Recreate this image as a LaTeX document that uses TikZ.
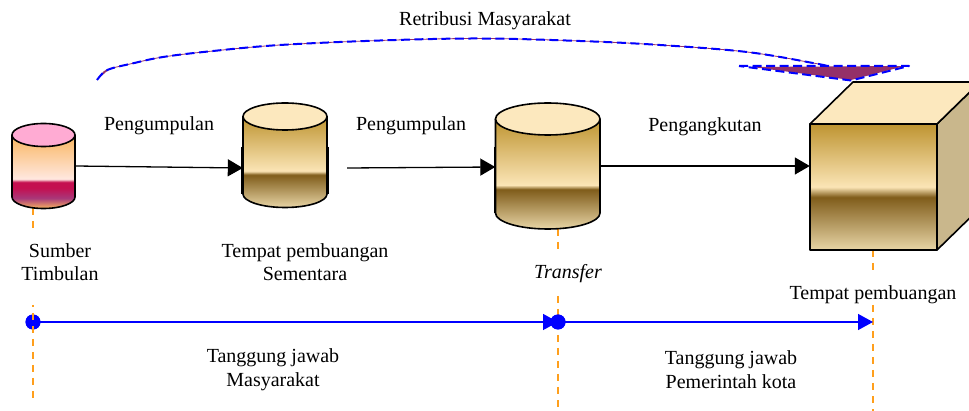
\documentclass[tikz,border=0pt]{standalone}
\usepackage{fontspec}
\setmainfont{Liberation Serif}
\usetikzlibrary{arrows.meta}
\definecolor{gA}{HTML}{BE9431}
\definecolor{gB}{HTML}{FBE5B6}
\definecolor{gC}{HTML}{7F5C1A}
\definecolor{gD}{HTML}{E8D5A6}
\definecolor{capc}{HTML}{FCE8BE}
\definecolor{sidec}{HTML}{C9B78C}
\definecolor{pinkc}{HTML}{FFABD3}
\definecolor{orA}{HTML}{F9B55F}
\definecolor{orB}{HTML}{FFE8E0}
\definecolor{maA}{HTML}{C40F50}
\definecolor{maB}{HTML}{A8387A}
\definecolor{purp}{HTML}{943069}
\definecolor{dashor}{HTML}{FF9F1C}
% the shaded path's height maps on 25bp..75bp of the shading
\pgfdeclareverticalshading{goldsh}{100bp}{
 color(0bp)=(gD); color(25bp)=(gD); color(43bp)=(gC); color(45bp)=(gB); color(75bp)=(gA); color(100bp)=(gA)}
\pgfdeclareverticalshading{goldcube}{100bp}{
 color(0bp)=(gD); color(25bp)=(gD); color(46bp)=(gC); color(50bp)=(gB); color(75bp)=(gA); color(100bp)=(gA)}
\pgfdeclareverticalshading{pinksh}{100bp}{
 color(0bp)=(orA); color(25bp)=(orA); color(32bp)=(maB); color(39bp)=(maA); color(43bp)=(maA);
 color(45bp)=(orB); color(75bp)=(orA); color(100bp)=(orA)}
\tikzset{
 every node/.style={font=\fontsize{20pt}{23.5pt}\selectfont, align=center, inner sep=0pt},
 anchorbox/.style={inner sep=0pt, draw=none},
 outl/.style={draw=black, line width=1.6pt, line join=round},
 flow/.style={draw=black, line width=1.3pt, -{Triangle[length=15pt,width=17pt]}},
 resp/.style={draw=blue, line width=1.4pt, -{Triangle[length=15pt,width=16pt]}},
 guide/.style={draw=dashor, line width=1.4pt, dash pattern=on 7pt off 6pt},
 dot/.style={circle, fill=blue, minimum size=15pt, inner sep=0pt},
 retrfill/.style={draw=purp, line width=0.8pt},
 retr/.style={draw=blue, line width=2pt, line join=round, dash pattern=on 9pt off 4.5pt}
}
\newcommand{\cyl}[7]{% name, xl, xr, ytop-center, ybottom-center, ry, shading
 \path[shading=#7, shading angle=0] (#2,#4) -- (#3,#4) -- (#3,#5) arc[start angle=0,end angle=180,x radius={(#3-#2)/2},y radius=#6] -- cycle;
 \draw[outl] (#2,#4) -- (#2,#5) arc[start angle=180,end angle=0,x radius={(#3-#2)/2},y radius=#6] -- (#3,#4);
 \node[anchorbox, minimum width={(#3-#2)*1pt}, minimum height=1pt] (#1) at ({(#2+#3)/2},167) {};
}
\begin{document}
\begin{tikzpicture}[x=1pt,y=-1pt]
\useasboundingbox (0,0) rectangle (969,411);
\path[clip] (0,0) rectangle (969,411);
% guides behind
\coordinate (g1c) at (33,208); \coordinate (g1d) at (33,228);
\coordinate (g2a) at (558,229); \coordinate (g2b) at (558,252);
\coordinate (g2c) at (558,296); \coordinate (g2d) at (558,409);
\coordinate (g3a) at (873,250); \coordinate (g3b) at (873,272);
\coordinate (g3c) at (873,305); \coordinate (g3d) at (873,411);
\draw[guide] (g1c) -- (g1d);
\draw[guide] (g2a) -- (g2b);
\draw[guide] (g2c) -- (g2d);
\draw[guide] (g3a) -- (g3b);
\draw[guide] (g3c) -- (g3d);
% cylinders
\cyl{c1}{12}{75}{135}{197}{11.5}{pinksh}
\draw[outl,fill=pinkc] (43.5,135) ellipse[x radius=31.5,y radius=11.5];
\cyl{c2}{243}{327}{116.5}{194}{13.5}{goldsh}
\draw[outl,fill=capc] (285,116.5) ellipse[x radius=42,y radius=13.5];
\draw[outl] (242,147) -- (242,194) (328,147) -- (328,194);
\cyl{c3}{495.5}{600}{119}{213}{16}{goldsh}
\draw[outl,fill=capc] (547.75,119) ellipse[x radius=52.25,y radius=16];
\draw[outl] (494.5,147) -- (494.5,213);
% cube
\node[anchorbox, minimum width=127pt, minimum height=126pt] (cube) at (873.5,187) {};
\draw[outl,fill=sidec] (937,124) -- (980,82) -- (980,208) -- (937,250) -- cycle;
\draw[outl,fill=capc] (810,124) -- (853,82) -- (980,82) -- (937,124) -- cycle;
\path[shading=goldcube, shading angle=0] (810,124) rectangle (937,250);
\draw[outl] (810,124) rectangle (937,250);
% flows
\coordinate (f2) at (347,168);
\draw[flow] (c1.east |- 0,166) -- (c2.west |- 0,168);
\draw[flow] (f2) -- (c3.west);
\draw[flow] (c3.east |- 0,166) -- (cube.west |- 0,166);
% retribution curve
\fill[purp] (97,80) -- (104,71) -- (113,67) -- (106,72) -- cycle;
\draw[retrfill] plot[smooth,tension=.6] coordinates {(97,80) (104,72) (113,68) (130,64) (163,57) (213,51) (280,45) (380,40.5) (480,38.5) (580,41) (660,45) (747,52) (813,63) (827,66)};
\draw[retr] plot[smooth,tension=.6] coordinates {(97,80) (104,72) (113,68) (130,64) (163,57) (213,51) (280,45) (380,40.5) (480,38.5) (580,41) (660,45) (747,52) (813,63) (827,66)};
\fill[purp] (752,67) -- (905,66) -- (851,80) -- cycle;
\draw[retr] (739,66) -- (909,66) -- (851,80.5) -- cycle;
% responsibility line
\path node[dot] (d1) at (33,322) {} node[dot] (d2) at (558,322) {};
\coordinate (e3) at (873,322);
\draw[resp] (d1.center) -- (d2.center);
\draw[resp] (d2.center) -- (e3);
\node[dot] at (d1) {};
\node[dot] at (d2) {};
% guide over the first dot
\coordinate (g1a) at (33,305); \coordinate (g1b) at (33,400);
\draw[guide, dash phase=5pt] (g1a) -- (g1b);
% labels
\node (t0) at (485,21) {Retribusi Masyarakat};
\node (t1) at (159,126) {Pengumpulan};
\node (t2) at (411,126) {Pengumpulan};
\node (t3) at (705,127) {Pengangkutan};
\node (t4) at (60,262) {Sumber\\Timbulan};
\node (t5) at (305,262) {Tempat pembuangan\\Sementara};
\node (t6) at (568,274) {\itshape Transfer};
\node (t7) at (873,295) {Tempat pembuangan};
\node (t8) at (273,369.5) {Tanggung jawab\\Masyarakat};
\node (t9) at (731,369.5) {Tanggung jawab\\Pemerintah kota};
\end{tikzpicture}
\end{document}
